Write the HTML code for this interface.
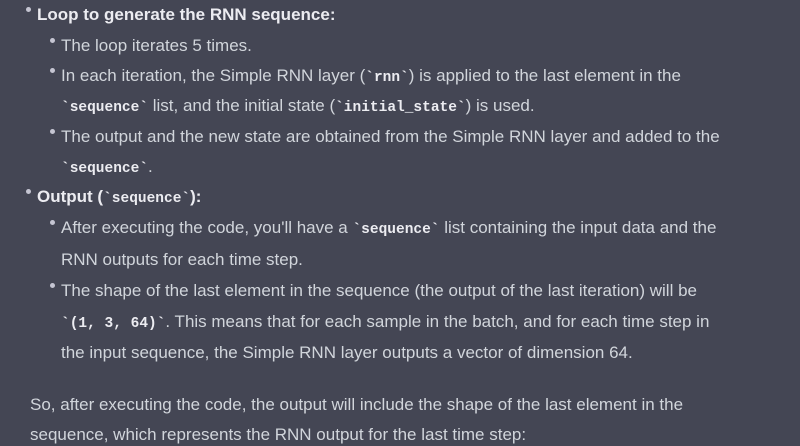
<!DOCTYPE html>
<html><head><meta charset="utf-8"><style>
html,body{margin:0;padding:0;background:#444654;}
body{width:800px;height:446px;position:relative;overflow:hidden;font-family:"Liberation Sans",sans-serif;font-size:17px;color:#d1d5db;}
.l{position:absolute;white-space:nowrap;line-height:20px;}
.b{font-weight:bold;color:#ececf1;}
code{font-family:"Liberation Mono",monospace;font-weight:bold;font-size:14.5px;color:#ececf1;}
.d{position:absolute;width:5px;height:5px;border-radius:50%;background:#c5c5d2;}
</style></head><body>
<div class="d" style="left:26px;top:7px"></div>
<div class="l b" style="left:37px;top:5px">Loop to generate the RNN sequence:</div>
<div class="d" style="left:50px;top:38px"></div>
<div class="l" style="left:61px;top:36px">The loop iterates 5 times.</div>
<div class="d" style="left:50px;top:68px"></div>
<div class="l" style="left:61px;top:66px">In each iteration, the Simple RNN layer (<code>`rnn`</code>) is applied to the last element in the</div>
<div class="l" style="left:61px;top:96px"><code>`sequence`</code> list, and the initial state (<code>`initial_state`</code>) is used.</div>
<div class="d" style="left:50px;top:129px"></div>
<div class="l" style="left:61px;top:127px">The output and the new state are obtained from the Simple RNN layer and added to the</div>
<div class="l" style="left:61px;top:157px"><code>`sequence`</code>.</div>
<div class="d" style="left:26px;top:189px"></div>
<div class="l b" style="left:37px;top:187px">Output (<code>`sequence`</code>):</div>
<div class="d" style="left:50px;top:220px"></div>
<div class="l" style="left:61px;top:218px">After executing the code, you'll have a <code>`sequence`</code> list containing the input data and the</div>
<div class="l" style="left:61px;top:250px">RNN outputs for each time step.</div>
<div class="d" style="left:50px;top:283px"></div>
<div class="l" style="left:61px;top:281px">The shape of the last element in the sequence (the output of the last iteration) will be</div>
<div class="l" style="left:61px;top:312px"><code>`(1, 3, 64)`</code>. This means that for each sample in the batch, and for each time step in</div>
<div class="l" style="left:61px;top:343px">the input sequence, the Simple RNN layer outputs a vector of dimension 64.</div>
<div class="l" style="left:30px;top:395px">So, after executing the code, the output will include the shape of the last element in the</div>
<div class="l" style="left:30px;top:425px">sequence, which represents the RNN output for the last time step:</div>
</body></html>
